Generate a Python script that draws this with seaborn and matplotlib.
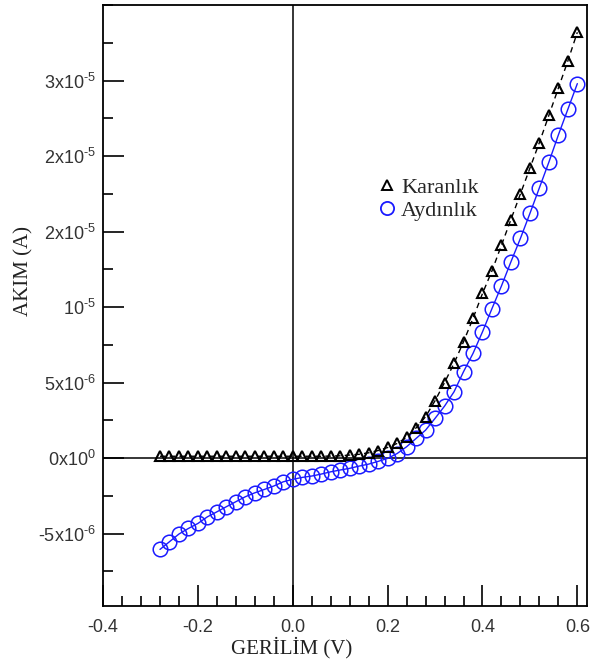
import numpy as np
import matplotlib
matplotlib.use("Agg")
import matplotlib.pyplot as plt
from matplotlib.lines import Line2D
from matplotlib.ticker import MultipleLocator, FixedLocator, FixedFormatter
import seaborn as sns

# voltage (V), 0.02 V steps from -0.28 to 0.60
voltage = [-0.28, -0.26, -0.24, -0.22, -0.20, -0.18, -0.16, -0.14, -0.12, -0.10,
           -0.08, -0.06, -0.04, -0.02, 0.00, 0.02, 0.04, 0.06, 0.08, 0.10,
           0.12, 0.14, 0.16, 0.18, 0.20, 0.22, 0.24, 0.26, 0.28, 0.30,
           0.32, 0.34, 0.36, 0.38, 0.40, 0.42, 0.44, 0.46, 0.48, 0.50,
           0.52, 0.54, 0.56, 0.58, 0.60]

# current in micro-amps
karanlik_uA = [0.12, 0.12, 0.12, 0.12, 0.12, 0.12, 0.12, 0.12, 0.12, 0.12,
               0.12, 0.12, 0.12, 0.12, 0.12, 0.12, 0.12, 0.12, 0.13, 0.15,
               0.20, 0.25, 0.35, 0.50, 0.70, 0.97, 1.37, 2.00, 2.74, 3.80,
               5.00, 6.27, 7.70, 9.25, 10.9, 12.4, 14.1, 15.8, 17.5, 19.2,
               20.9, 22.7, 24.5, 26.3, 28.2]
aydinlik_uA = [-6.05, -5.54, -5.03, -4.66, -4.33, -3.89, -3.56, -3.22, -2.89, -2.56,
               -2.30, -2.08, -1.85, -1.57, -1.41, -1.28, -1.19, -1.06, -0.91, -0.79,
               -0.68, -0.53, -0.40, -0.22, -0.02, 0.30, 0.75, 1.30, 1.85, 2.63,
               3.44, 4.39, 5.72, 6.93, 8.36, 9.90, 11.4, 13.0, 14.55, 16.2,
               17.9, 19.6, 21.4, 23.1, 24.8]

ytick_vals = [-5e-6, 0, 5e-6, 10e-6, 15e-6, 20e-6, 25e-6]
ytick_labels = [r"-5x10$^{\text{-6}}$", r"0x10$^{0}$", r"5x10$^{\text{-6}}$",
                r"10$^{\text{-5}}$", r"2x10$^{\text{-5}}$", r"2x10$^{\text{-5}}$",
                r"3x10$^{\text{-5}}$"]

karanlik = np.array(karanlik_uA) * 1e-6
aydinlik = np.array(aydinlik_uA) * 1e-6

sns.set_style("white")
plt.rcParams["font.family"] = ["Liberation Sans", "DejaVu Sans"]
plt.rcParams["mathtext.fontset"] = "custom"
plt.rcParams["mathtext.rm"] = "Liberation Sans"
plt.rcParams["mathtext.it"] = "Liberation Sans:italic"
plt.rcParams["mathtext.bf"] = "Liberation Sans:bold"

fig = plt.figure(figsize=(6.1, 6.64), dpi=100)
ax = fig.add_axes([0.169, 0.0873, 0.793, 0.905])

ax.axhline(0, color="black", lw=1.1, zorder=1)
ax.axvline(0, color="black", lw=1.1, zorder=1)

blue = "#1a1aff"
sns.lineplot(x=voltage, y=aydinlik, ax=ax, color=blue, lw=1.0,
             marker="o", markersize=10.5, markerfacecolor="none",
             markeredgecolor=blue, markeredgewidth=1.1, zorder=3)
sns.lineplot(x=voltage, y=karanlik, ax=ax, color="black", lw=1.0,
             linestyle=(0, (4, 3)), marker="^", markersize=7.5,
             markerfacecolor="none", markeredgecolor="black",
             markeredgewidth=1.5, zorder=4)

ax.set_xlim(-0.4, 0.62)
ax.set_ylim(-9.8e-6, 30e-6)

ax.xaxis.set_major_locator(MultipleLocator(0.2))
ax.xaxis.set_minor_locator(MultipleLocator(0.04))
ax.xaxis.set_major_formatter(matplotlib.ticker.FormatStrFormatter("%.1f"))
ax.yaxis.set_major_locator(FixedLocator(ytick_vals))
ax.yaxis.set_major_formatter(FixedFormatter(ytick_labels))
ax.yaxis.set_minor_locator(MultipleLocator(2.5e-6))

ax.tick_params(which="both", direction="in", bottom=True, left=True,
               top=False, right=False, color="black",
               labelsize=13, labelcolor="#333333")
ax.tick_params(which="major", length=15, width=1.2)
ax.tick_params(which="minor", length=7, width=1.2)
ax.tick_params(axis="x", which="both", pad=9)
ax.tick_params(axis="y", which="both", pad=5)

for s in ax.spines.values():
    s.set_linewidth(1.3)
    s.set_color("black")

ax.set_xlabel("GERİLİM (V)", family="Liberation Serif", fontsize=15, color="#222222")
ax.set_ylabel("AKIM (A)", family="Liberation Serif", fontsize=15, color="#222222")
ax.xaxis.set_label_coords(0.39, -0.052)
ax.yaxis.set_label_coords(-0.143, 0.557)

handles = [
    Line2D([], [], ls="none", marker="^", markersize=7.5, markerfacecolor="none",
           markeredgecolor="black", markeredgewidth=1.4),
    Line2D([], [], ls="none", marker="o", markersize=9.5, markerfacecolor="none",
           markeredgecolor=blue, markeredgewidth=1.3),
]
ax.legend(handles, ["Karanlık", "Aydınlık"], loc="center left",
          bbox_to_anchor=(0.545, 0.677), frameon=False, borderpad=0,
          handlelength=0.8, handletextpad=0.25, labelspacing=0.12,
          prop={"family": "Liberation Serif", "size": 16})

fig.savefig("out.png", dpi=100)
